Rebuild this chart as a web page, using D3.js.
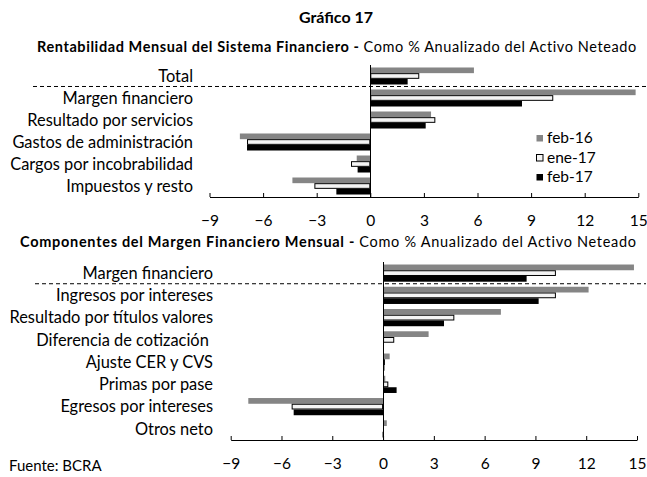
<!DOCTYPE html>
<html><head><meta charset="utf-8">
<script src="https://cdn.jsdelivr.net/npm/d3@7"></script>
<style>
body{margin:0;background:#fff;}
svg{font-family:Lato, "Open Sans", sans-serif;}
</style></head>
<body><svg id="c" width="647" height="477"></svg>
<script>
const series = ["feb-16","ene-17","feb-17"];
const topCategories = ["Total","Margen financiero","Resultado por servicios","Gastos de administración","Cargos por incobrabilidad","Impuestos y resto"];
const topFeb16 = [5.8, 14.85, 3.4, -7.3, -0.76, -4.36];
const topEne17 = [2.74, 10.24, 3.64, -6.9, -1.08, -3.13];
const topFeb17 = [2.09, 8.49, 3.1, -6.9, -0.71, -1.9];
const botCategories = ["Margen financiero","Ingresos por intereses","Resultado por títulos valores","Diferencia de cotización\u00A0","Ajuste CER y CVS","Primas por pase","Egresos por intereses","Otros neto"];
const botFeb16 = [14.82, 12.14, 6.96, 2.69, 0.39, 0.13, -7.96, 0.22];
const botEne17 = [10.21, 10.21, 4.21, 0.66, 0.11, 0.31, -5.4, -0.05];
const botFeb17 = [8.48, 9.19, 3.6, 0.0, 0.08, 0.8, -5.28, -0.03];
const tickValues = [-9,-6,-3,0,3,6,9,12,15];
const xDomain = [-9, 15];

const fills = {"feb-16":"#858585","ene-17":"#f4f4f4","feb-17":"#000000"};
const strokes = {"feb-16":"none","ene-17":"#000","feb-17":"none"};

const svg = d3.select("#c");

svg.append("text").attr("x",336).attr("y",23).attr("text-anchor","middle")
  .attr("font-size",16).attr("font-weight","bold").text("Gráfico 17");
function subtitle(y, boldPart, normalPart, xStart, xEnd){
  const t = svg.append("text").attr("y",y).attr("font-size",14.5).attr("x",xStart);
  t.append("tspan").attr("font-weight","bold").text(boldPart);
  t.append("tspan").text(normalPart);
  const w = t.node().getComputedTextLength();
  const n = (boldPart+normalPart).length;
  t.attr("letter-spacing", ((xEnd-xStart)-w)/n);
}
subtitle(52, "Rentabilidad Mensual del Sistema Financiero - ", "Como % Anualizado del Activo Neteado", 37, 637);
subtitle(247, "Componentes del Margen Financiero Mensual - ", "Como % Anualizado del Activo Neteado", 20, 637);

function panel(cfg){
  const data = cfg.categories.map((c,i)=>({cat:c, vals:[cfg.a[i],cfg.b[i],cfg.c[i]]}));
  const x = d3.scaleLinear().domain(xDomain).range(cfg.xRange);
  const y = d3.scaleBand().domain(cfg.categories).range(cfg.yRange).paddingInner(0.227).paddingOuter(0.113);
  const ys = d3.scaleBand().domain(series).range([0,y.bandwidth()]);
  const g = svg.append("g");
  data.forEach(d=>{
    d.vals.forEach((v,j)=>{
      const s = series[j];
      const off = strokes[s]!=="none";
      g.append("rect")
        .attr("x", x(Math.min(0,v)) + (off?0.5:0))
        .attr("y", y(d.cat)+ys(s) + (off?0.5:0))
        .attr("width", Math.max(0, Math.abs(x(v)-x(0)) - (off?1:0)))
        .attr("height", ys.bandwidth() - (off?1:0))
        .attr("fill", fills[s]).attr("stroke", strokes[s]).attr("stroke-width",1);
    });
  });
  g.selectAll("text.cat").data(cfg.categories).enter().append("text")
    .attr("class","cat").attr("x",cfg.labelX).attr("y",d=>y(d)+y.bandwidth()/2)
    .attr("dy","0.35em").attr("text-anchor","end").attr("font-size",16.4).style("white-space","pre").text(d=>d);
  const sepY = y(cfg.categories[1]) - (y.step()-y.bandwidth())/2 - 0.5;
  g.append("line").attr("x1",cfg.dashX1).attr("x2",646).attr("y1",sepY).attr("y2",sepY)
    .attr("stroke","#000").attr("stroke-width",1).attr("stroke-dasharray","4,3");
  g.append("line").attr("x1",Math.round(x(0))+0.5).attr("x2",Math.round(x(0))+0.5)
    .attr("y1",cfg.yRange[0]).attr("y2",cfg.yRange[1]).attr("stroke","#000").attr("stroke-width",1);
  const ax = g.append("g").attr("transform",`translate(0,${cfg.yRange[1]})`)
    .call(d3.axisBottom(x).tickValues(tickValues).tickFormat(d3.format("d")).tickSizeInner(-4).tickSizeOuter(0).tickPadding(17.5));
  ax.select(".domain").attr("stroke","#000");
  ax.selectAll(".tick line").attr("stroke","#000");
  ax.selectAll("text").attr("font-size",15.5).attr("font-family","Lato, sans-serif").attr("fill","#000");
  return {x,y};
}

panel({categories:topCategories, a:topFeb16, b:topEne17, c:topFeb17,
  xRange:[209.5,638.3], yRange:[65,197], labelX:193, dashX1:33});
panel({categories:botCategories, a:botFeb16, b:botEne17, c:botFeb17,
  xRange:[230.7,637], yRange:[262,440], labelX:213, dashX1:35});

const lg = svg.append("g");
series.forEach((s,i)=>{
  const yy = 134.5 + i*19.5;
  lg.append("rect").attr("x",536.5).attr("y",yy+0.5).attr("width",6.5).attr("height",6.5)
    .attr("fill",fills[s]).attr("stroke",strokes[s]==="none"?"none":"#000");
  lg.append("text").attr("x",547).attr("y",yy+3.5).attr("dy","0.35em").attr("font-size",15.5).text(s);
});

svg.append("text").attr("x",9).attr("y",471).attr("font-size",15).text("Fuente: BCRA");
</script></body></html>
